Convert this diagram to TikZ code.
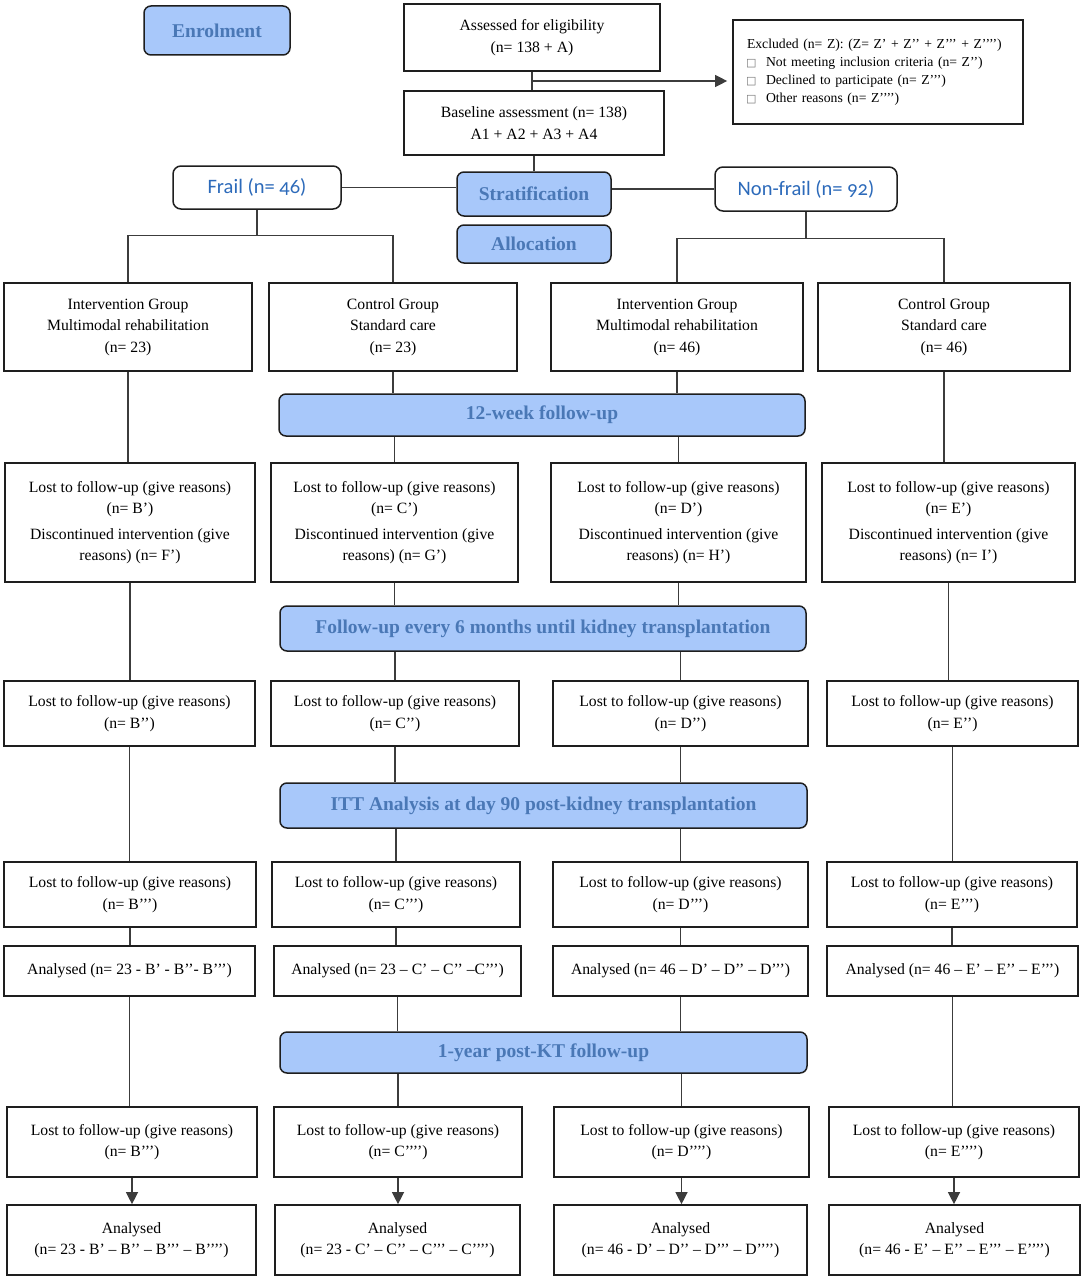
\documentclass[tikz,border=0pt]{standalone}
\usepackage{fontspec}
\setmainfont{Liberation Serif}
\newfontfamily\grpfont[Numbers=OldStyle]{Carlito}
\newfontfamily\dejavu{DejaVu Sans}
\usetikzlibrary{arrows.meta,calc}
\definecolor{hfill}{RGB}{168,200,250}
\definecolor{htext}{RGB}{74,120,182}
\definecolor{gtext}{RGB}{44,106,186}
\definecolor{bord}{RGB}{30,30,30}
\definecolor{lnc}{RGB}{60,60,60}
\newcommand\chk{\makebox[19pt][l]{\hspace{-1pt}{\dejavu\fontsize{11}{11}\selectfont\textcolor{black!55}{□}}}}
\newcommand\bx[7]{%
  \pgfmathsetmacro\cx{(#3+#5)/2}%
  \pgfmathsetmacro\cy{(#4+#6)/2}%
  \pgfmathsetmacro\ww{#5-#3}%
  \pgfmathsetmacro\hh{#6-#4}%
  \node[#1, minimum width=\ww pt, minimum height=\hh pt] (#2) at (\cx,\cy) {#7};}
\begin{document}
\begin{tikzpicture}[x=1pt,y=-1pt,
  box/.style={draw=bord, line width=1.7pt, fill=white, align=center, inner sep=1pt,
    font=\fontsize{15.7}{21.5}\selectfont},
  hdr/.style={draw=bord, line width=1.5pt, rounded corners=7pt, fill=hfill, text=htext,
    align=center, inner sep=1pt, font=\bfseries\fontsize{19.5}{23}\selectfont},
  grp/.style={draw=bord, line width=1.5pt, rounded corners=8pt, fill=white, text=gtext,
    align=center, inner sep=1pt, font=\grpfont\fontsize{20.5}{24}\selectfont},
  conn/.style={draw=lnc, line width=1.3pt},
  arr/.style={conn, -{Triangle[length=12pt,width=12pt]}}
]
\useasboundingbox (0,0) rectangle (1084,1279);
\fill[white] (0,0) rectangle (1084,1279);

% top part
\bx{hdr}{enrol}{144}{6}{290}{55}{Enrolment}
\bx{box}{assess}{404}{4}{660}{71}{Assessed for eligibility\\(n= 138 + A)}
\bx{box}{base}{404}{91}{664}{155}{Baseline assessment (n= 138)\\A1 + A2 + A3 + A4}
\bx{box, align=left, text width=262pt, inner xsep=14pt, inner ysep=4pt, font=\fontsize{13.7}{18}\selectfont}{excl}{733}{20}{1023}{124}{%
Excluded (n= Z): (Z= Z’ + Z’’ + Z’’’ + Z’’’’)\\
\chk Not meeting inclusion criteria (n= Z’’)\\
\chk Declined to participate (n= Z’’’)\\
\chk Other reasons (n= Z’’’’)}
\bx{hdr}{strat}{457}{172}{611}{216}{Stratification}
\bx{hdr}{alloc}{457}{225}{611}{263}{Allocation}
\bx{grp}{frail}{173}{166}{341}{209}{Frail (n= 46)}
\bx{grp}{nonfrail}{715}{167}{897}{211}{Non-frail (n= 92)}

% row 1
\bx{box}{a1}{4}{283}{252}{371}{Intervention Group\\Multimodal rehabilitation\\(n= 23)}
\bx{box}{b1}{269}{283}{517}{371}{Control Group\\Standard care\\(n= 23)}
\bx{box}{c1}{551}{283}{803}{371}{Intervention Group\\Multimodal rehabilitation\\(n= 46)}
\bx{box}{d1}{818}{283}{1070}{371}{Control Group\\Standard care\\(n= 46)}

\bx{hdr}{wk12}{279}{394}{805}{436}{12-week follow-up}

% row 2
\bx{box}{a2}{5}{463}{255}{582}{Lost to follow-up (give reasons)\\(n= B’)\\[4pt]Discontinued intervention (give\\reasons) (n= F’)}
\bx{box}{b2}{271}{463}{518}{582}{Lost to follow-up (give reasons)\\(n= C’)\\[4pt]Discontinued intervention (give\\reasons) (n= G’)}
\bx{box}{c2}{551}{463}{806}{582}{Lost to follow-up (give reasons)\\(n= D’)\\[4pt]Discontinued intervention (give\\reasons) (n= H’)}
\bx{box}{d2}{822}{463}{1075}{582}{Lost to follow-up (give reasons)\\(n= E’)\\[4pt]Discontinued intervention (give\\reasons) (n= I’)}

\bx{hdr}{fu6}{280}{606}{806}{651}{Follow-up every 6 months until kidney transplantation}

% row 3
\bx{box}{a3}{4}{681}{255}{746}{Lost to follow-up (give reasons)\\(n= B’’)}
\bx{box}{b3}{271}{681}{519}{746}{Lost to follow-up (give reasons)\\(n= C’’)}
\bx{box}{c3}{553}{681}{808}{746}{Lost to follow-up (give reasons)\\(n= D’’)}
\bx{box}{d3}{827}{681}{1078}{746}{Lost to follow-up (give reasons)\\(n= E’’)}

\bx{hdr}{itt}{280}{783}{807}{828}{ITT Analysis at day 90 post-kidney transplantation}

% row 4
\bx{box}{a4}{4}{862}{256}{927}{Lost to follow-up (give reasons)\\(n= B’’’)}
\bx{box}{b4}{272}{862}{520}{927}{Lost to follow-up (give reasons)\\(n= C’’’)}
\bx{box}{c4}{553}{862}{808}{927}{Lost to follow-up (give reasons)\\(n= D’’’)}
\bx{box}{d4}{827}{862}{1077}{927}{Lost to follow-up (give reasons)\\(n= E’’’)}

% row 5
\bx{box}{a5}{4}{946}{255}{996}{Analysed (n= 23 - B’ - B’’- B’’’)}
\bx{box}{b5}{274}{946}{521}{996}{Analysed (n= 23 – C’ – C’’ –C’’’)}
\bx{box}{c5}{553}{946}{808}{996}{Analysed (n= 46 – D’ – D’’ – D’’’)}
\bx{box}{d5}{827}{946}{1078}{996}{Analysed (n= 46 – E’ – E’’ – E’’’)}

\bx{hdr}{yr1}{280}{1032}{807}{1073}{1-year post-KT follow-up}

% row 6
\bx{box}{a6}{7}{1107}{257}{1177}{Lost to follow-up (give reasons)\\(n= B’’’)}
\bx{box}{b6}{274}{1107}{522}{1177}{Lost to follow-up (give reasons)\\(n= C’’’’)}
\bx{box}{c6}{554}{1107}{809}{1177}{Lost to follow-up (give reasons)\\(n= D’’’’)}
\bx{box}{d6}{829}{1107}{1079}{1177}{Lost to follow-up (give reasons)\\(n= E’’’’)}

% row 7
\bx{box}{a7}{7}{1205}{256}{1275}{Analysed\\(n= 23 - B’ – B’’ – B’’’ – B’’’’)}
\bx{box}{b7}{275}{1205}{520}{1275}{Analysed\\(n= 23 - C’ – C’’ – C’’’ – C’’’’)}
\bx{box}{c7}{554}{1205}{807}{1275}{Analysed\\(n= 46 - D’ – D’’ – D’’’ – D’’’’)}
\bx{box}{d7}{829}{1205}{1080}{1275}{Analysed\\(n= 46 - E’ – E’’ – E’’’ – E’’’’)}

% connectors top
\coordinate (xsplit) at ($(assess.south)!0.5!(assess.south |- base.north)$);
\draw[conn] (assess.south) -- (assess.south |- base.north);
\draw[arr, shorten >=5pt] (xsplit) -- (xsplit -| excl.west);
\draw[conn] (base.south) -- (base.south |- strat.north);
\draw[conn] (frail.east) -- (frail.east -| strat.west);
\draw[conn] (nonfrail.west) -- (nonfrail.west -| strat.east);
\coordinate (fj) at ($(frail.south)+(0,26)$);
\coordinate (nj) at ($(nonfrail.south)+(0,27)$);
\draw[conn] (frail.south) -- (fj);
\draw[conn] (a1.north) |- (fj) -| (b1.north);
\draw[conn] (nonfrail.south) -- (nj);
\draw[conn] (c1.north) |- (nj) -| (d1.north);

% row1 -> row2
\draw[conn] (a1.south) -- (a1.south |- a2.north);
\draw[conn] (b1.south) -- (b1.south |- wk12.north);
\draw[conn] (c1.south) -- (c1.south |- wk12.north);
\draw[conn] (b2.north) -- (b2.north |- wk12.south);
\draw[conn] (c2.north) -- (c2.north |- wk12.south);
\draw[conn] (d1.south) -- (d1.south |- d2.north);

% row2 -> row3
\draw[conn] (a2.south) -- (a2.south |- a3.north);
\draw[conn] (b2.south) -- (b2.south |- fu6.north);
\draw[conn] (c2.south) -- (c2.south |- fu6.north);
\draw[conn] (b3.north) -- (b3.north |- fu6.south);
\draw[conn] (c3.north) -- (c3.north |- fu6.south);
\draw[conn] (d2.south) -- (d2.south |- d3.north);

% row3 -> row4
\draw[conn] (a3.south) -- (a3.south |- a4.north);
\draw[conn] (b3.south) -- (b3.south |- itt.north);
\draw[conn] (c3.south) -- (c3.south |- itt.north);
\draw[conn] (b4.north) -- (b4.north |- itt.south);
\draw[conn] (c4.north) -- (c4.north |- itt.south);
\draw[conn] (d3.south) -- (d3.south |- d4.north);

% row4 -> row5
\foreach \c in {a,b,c,d} {\draw[conn] (\c4.south) -- (\c4.south |- \c5.north);}

% row5 -> row6
\draw[conn] (a5.south) -- (a5.south |- a6.north);
\draw[conn] (b5.south) -- (b5.south |- yr1.north);
\draw[conn] (c5.south) -- (c5.south |- yr1.north);
\draw[conn] (b6.north) -- (b6.north |- yr1.south);
\draw[conn] (c6.north) -- (c6.north |- yr1.south);
\draw[conn] (d5.south) -- (d5.south |- d6.north);

% row6 -> row7
\foreach \c in {a,b,c,d} {\draw[arr] (\c6.south) -- (\c6.south |- \c7.north);}
\end{tikzpicture}
\end{document}
